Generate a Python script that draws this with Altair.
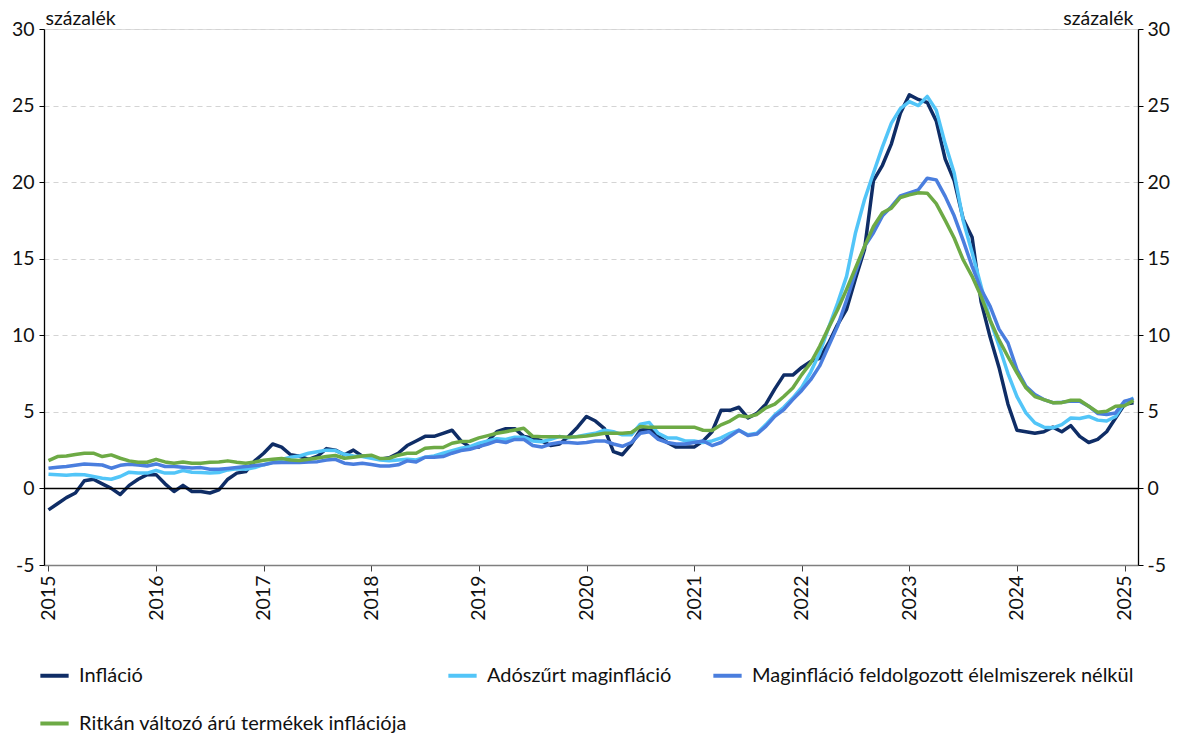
import altair as alt
import pandas as pd

# ---- data (monthly, Jan 2015 - Feb 2025) ----
first_year = 2015
year_ticks = list(range(0, 121, 12))

inflacio = [
    -1.4, -1.0, -0.6, -0.3, 0.5, 0.6, 0.3, 0.0, -0.4, 0.2, 0.6, 0.9,
    0.9, 0.3, -0.2, 0.2, -0.2, -0.2, -0.3, -0.1, 0.6, 1.0, 1.1, 1.8,
    2.3, 2.9, 2.7, 2.2, 2.1, 1.9, 2.1, 2.6, 2.5, 2.2, 2.5, 2.1,
    2.1, 1.9, 2.0, 2.3, 2.8, 3.1, 3.4, 3.4, 3.6, 3.8, 3.1, 2.7,
    2.7, 3.1, 3.7, 3.9, 3.9, 3.4, 3.3, 3.1, 2.8, 2.9, 3.4, 4.0,
    4.7, 4.4, 3.9, 2.4, 2.2, 2.9, 3.8, 3.9, 3.4, 3.0, 2.7, 2.7,
    2.7, 3.1, 3.7, 5.1, 5.1, 5.3, 4.6, 4.9, 5.5, 6.5, 7.4, 7.4,
    7.9, 8.3, 8.5, 9.5, 10.7, 11.7, 13.7, 15.6, 20.1, 21.1, 22.5, 24.5,
    25.7, 25.4, 25.2, 24.0, 21.5, 20.1, 17.6, 16.4, 12.2, 9.9, 7.9, 5.5,
    3.8, 3.7, 3.6, 3.7, 4.0, 3.7, 4.1, 3.4, 3.0, 3.2, 3.7, 4.6,
    5.5, 5.6,
]
adoszurt = [
    0.93, 0.89, 0.86, 0.91, 0.89, 0.78, 0.67, 0.6, 0.78, 1.06, 1.0, 1.0,
    1.17, 1.0, 1.0, 1.17, 1.06, 1.04, 1.0, 1.04, 1.21, 1.28, 1.25, 1.36,
    1.55, 1.7, 1.9, 2.04, 2.12, 2.3, 2.4, 2.5, 2.47, 2.23, 2.12, 2.08,
    1.97, 1.86, 1.8, 1.86, 1.9, 1.86, 2.04, 2.12, 2.3, 2.47, 2.62, 2.73,
    2.95, 3.1, 3.25, 3.2, 3.35, 3.35, 3.1, 3.05, 3.2, 3.4, 3.3, 3.4,
    3.5, 3.6, 3.8, 3.7, 3.5, 3.5, 4.2, 4.3, 3.6, 3.3, 3.3, 3.1,
    3.1, 3.0, 3.1, 3.3, 3.6, 3.8, 3.5, 3.6, 4.17, 4.8, 5.3, 5.9,
    6.6, 7.6, 8.85, 10.5, 12.1, 13.85, 16.7, 18.85, 20.6, 22.3, 23.85, 24.8,
    25.26, 25.0, 25.6, 24.7, 22.5, 20.6, 17.5, 15.4, 13.2, 11.0, 9.3, 7.5,
    6.0, 4.93, 4.28, 4.0, 3.96, 4.17, 4.6, 4.57, 4.7, 4.46, 4.4, 4.7,
    5.6, 5.9,
]
magin_feld = [
    1.32, 1.38, 1.43, 1.51, 1.6, 1.56, 1.53, 1.32, 1.51, 1.58, 1.53, 1.47,
    1.6, 1.43, 1.43, 1.38, 1.34, 1.36, 1.25, 1.25, 1.3, 1.36, 1.43, 1.49,
    1.55, 1.67, 1.69, 1.69, 1.69, 1.73, 1.75, 1.86, 1.9, 1.65, 1.58, 1.65,
    1.56, 1.47, 1.47, 1.54, 1.8, 1.73, 2.04, 2.04, 2.08, 2.3, 2.47, 2.56,
    2.73, 2.9, 3.1, 3.0, 3.2, 3.2, 2.8, 2.7, 2.9, 3.0, 3.0, 2.95,
    3.0, 3.1, 3.1, 2.9, 2.75, 3.0, 3.6, 3.7, 3.2, 3.0, 2.9, 2.9,
    3.0, 3.1, 2.8, 3.0, 3.4, 3.8, 3.45, 3.55, 4.05, 4.7, 5.15, 5.8,
    6.4, 7.1, 8.0, 9.3, 10.6, 12.3, 14.1, 15.8, 16.7, 17.8, 18.4, 19.1,
    19.3, 19.5, 20.26, 20.15, 19.07, 17.8, 16.2, 14.5, 13.0, 11.9, 10.4, 9.5,
    7.76, 6.67, 6.13, 5.8, 5.6, 5.63, 5.7, 5.7, 5.37, 4.9, 4.83, 4.93,
    5.7, 5.85,
]
ritkan = [
    1.82, 2.08, 2.12, 2.21, 2.3, 2.3, 2.08, 2.19, 1.97, 1.8, 1.71, 1.71,
    1.9, 1.73, 1.64, 1.73, 1.64, 1.64, 1.71, 1.73, 1.8, 1.71, 1.64, 1.73,
    1.84, 1.9, 1.95, 1.86, 1.82, 1.9, 1.99, 2.08, 2.15, 1.97, 2.04, 2.12,
    2.17, 1.95, 1.97, 2.17, 2.3, 2.3, 2.62, 2.67, 2.67, 2.95, 3.06, 3.08,
    3.3, 3.45, 3.6, 3.7, 3.82, 3.93, 3.4, 3.38, 3.38, 3.38, 3.35, 3.38,
    3.43, 3.5, 3.6, 3.6, 3.6, 3.65, 4.04, 4.0, 4.0, 4.0, 4.0, 4.0,
    4.0, 3.8, 3.78, 4.15, 4.4, 4.76, 4.67, 4.83, 5.26, 5.5, 6.0, 6.56,
    7.43, 8.2, 9.28, 10.5, 11.67, 13.0, 14.4, 15.8, 17.1, 18.0, 18.3, 19.0,
    19.17, 19.3, 19.28, 18.6, 17.5, 16.35, 14.93, 13.85, 12.54, 11.0, 9.7, 8.6,
    7.54, 6.57, 6.0, 5.8, 5.6, 5.6, 5.76, 5.76, 5.37, 4.98, 5.04, 5.37,
    5.4, 5.74,
]

series_names = [
    "Infláció",
    "Adószűrt maginfláció",
    "Maginfláció feldolgozott élelmiszerek nélkül",
    "Ritkán változó árú termékek inflációja",
]
series_colors = ["#0F2D66", "#52C5F8", "#4A7EDE", "#6DAA45"]
y_ticks = [-5, 0, 5, 10, 15, 20, 25, 30]

rows = []
for k, (name, vals) in enumerate(zip(series_names, [inflacio, adoszurt, magin_feld, ritkan])):
    for i, v in enumerate(vals):
        rows.append({"i": i, "v": v, "s": name, "k": k})
df = pd.DataFrame(rows)

FONT = "Lato"
FS = 19.5
LFS = 20
TXT = "#111111"

xscale = alt.Scale(domain=[-0.5, 121.5], nice=False, zero=False)
yscale = alt.Scale(domain=[-5, 30], nice=False, zero=False)

x_axis = alt.Axis(
    values=year_ticks,
    labelExpr=f"'' + ({first_year} + datum.value / 12)",
    labelAngle=270,
    labelAlign="right",
    labelBaseline="middle",
    labelPadding=4,
    tickSize=6,
    tickColor="#404040",
    domainColor="#7f7f7f",
    domainWidth=1.5,
    grid=False,
    title=None,
    labelFont=FONT,
    labelFontSize=FS,
    labelColor=TXT,
)


def y_axis(orient):
    left = orient == "left"
    return alt.Axis(
        values=y_ticks,
        orient=orient,
        labelExpr="'' + datum.value",
        tickSize=5,
        tickColor="#000000",
        domainColor="#000000",
        domainWidth=1.3,
        labelPadding=5 if left else 4,
        grid=left,
        gridDash=[5, 4],
        gridColor="#d4d4d4",
        gridWidth=1.2,
        title="százalék",
        titleAngle=0,
        titleAlign="left" if left else "right",
        titleBaseline="alphabetic",
        titleX=1 if left else -5,
        titleY=-5,
        titleFont=FONT,
        titleFontSize=FS,
        titleFontWeight="normal",
        titleColor=TXT,
        labelFont=FONT,
        labelFontSize=FS,
        labelColor=TXT,
    )


lines = alt.Chart(df).mark_line(strokeWidth=3.5, strokeJoin="round").encode(
    x=alt.X("i:Q", scale=xscale, axis=x_axis),
    y=alt.Y("v:Q", scale=yscale, axis=y_axis("left")),
    color=alt.Color(
        "s:N",
        scale=alt.Scale(domain=series_names, range=series_colors),
        legend=alt.Legend(
            title=None,
            orient="none",
            direction="horizontal",
            legendX=-6,
            legendY=630,
            columns=3,
            columnPadding=33,
            rowPadding=21,
            symbolType="stroke",
            symbolSize=800,
            symbolStrokeWidth=4,
            labelFont=FONT,
            labelFontSize=LFS,
            labelColor=TXT,
            labelOffset=8,
            labelLimit=0,
            padding=0,
        ),
    ),
    order=alt.Order("k:Q"),
    detail="s:N",
)

zero = alt.Chart(df).mark_rule(color="#000000", strokeWidth=1.5).encode(
    y=alt.datum(0)
).transform_filter("datum.i == 0 && datum.k == 0")

right = alt.Chart(df).mark_line(opacity=0).encode(
    x=alt.X("i:Q", scale=xscale, axis=x_axis),
    y=alt.Y("v:Q", scale=yscale, axis=y_axis("right")),
    detail="s:N",
)

chart = (
    alt.layer(alt.layer(lines, zero), right)
    .resolve_scale(y="independent")
    .properties(
        width=1094,
        height=536,
        padding={"left": 36, "top": 21, "right": 33, "bottom": 171},
        autosize=alt.AutoSizeParams(type="none"),
        background="white",
    )
    .configure_view(stroke=None)
    .configure(font=FONT)
)

chart.save("out.html", embed_options={"renderer": "svg", "actions": False})
